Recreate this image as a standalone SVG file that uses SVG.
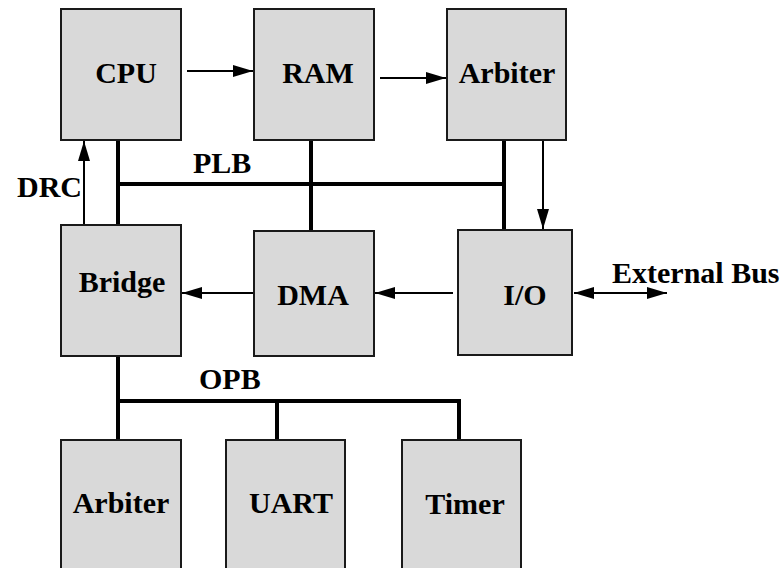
<svg xmlns="http://www.w3.org/2000/svg" width="781" height="568" viewBox="0 0 781 568">
<style>
.box{fill:#d9d9d9;stroke:#1a1a1a;stroke-width:2}
.lbl{font-family:'Liberation Serif','DejaVu Serif',serif;font-weight:bold;font-size:30px;fill:#000}
.mid{text-anchor:middle}
.bus{stroke:#000;stroke-width:4;fill:none}
.sig{stroke:#000;stroke-width:2;fill:none}
</style>
<defs>
<marker id="ah" markerUnits="userSpaceOnUse" markerWidth="20" markerHeight="12" refX="20" refY="6" orient="auto-start-reverse">
<path d="M0,0 L20,6 L0,12 z" fill="#000"/>
</marker>
</defs>
<rect width="781" height="568" fill="#fff"/>
<g id="connectors">
<line class="bus" x1="118" y1="140" x2="118" y2="225"/>
<line class="bus" x1="116" y1="184" x2="506" y2="184"/>
<line class="bus" x1="311" y1="140" x2="311" y2="231"/>
<line class="bus" x1="504" y1="140" x2="504" y2="230"/>
<line class="bus" x1="118" y1="356" x2="118" y2="440"/>
<line class="bus" x1="116" y1="401" x2="459" y2="401"/>
<line class="bus" x1="277" y1="401" x2="277" y2="440"/>
<line class="bus" x1="459" y1="399" x2="459" y2="440"/>
<line class="sig" x1="187" y1="71" x2="253" y2="71" marker-end="url(#ah)"/>
<line class="sig" x1="380" y1="78" x2="446" y2="78" marker-end="url(#ah)"/>
<line class="sig" x1="84" y1="224" x2="84" y2="141" marker-end="url(#ah)"/>
<line class="sig" x1="543" y1="140" x2="543" y2="229" marker-end="url(#ah)"/>
<line class="sig" x1="253" y1="293" x2="182" y2="293" marker-end="url(#ah)"/>
<line class="sig" x1="453" y1="293" x2="375" y2="293" marker-end="url(#ah)"/>
<line class="sig" x1="574" y1="293" x2="667" y2="293" marker-start="url(#ah)" marker-end="url(#ah)"/>
<text class="lbl" font-family="Liberation Serif, serif" x="193" y="173">PLB</text>
<text class="lbl" font-family="Liberation Serif, serif" x="17" y="197">DRC</text>
<text class="lbl" font-family="Liberation Serif, serif" x="612" y="283">External Bus</text>
<text class="lbl" font-family="Liberation Serif, serif" x="199" y="389">OPB</text>
</g>
<g id="cpu"><rect class="box" x="61" y="9" width="120" height="131"/><text class="lbl mid" x="126" y="83">CPU</text></g>
<g id="ram"><rect class="box" x="254" y="9" width="120" height="131"/><text class="lbl mid" x="318" y="83">RAM</text></g>
<g id="arbiter-plb"><rect class="box" x="447" y="9" width="119" height="131"/><text class="lbl mid" x="507" y="83">Arbiter</text></g>
<g id="bridge"><rect class="box" x="61" y="225" width="120" height="131"/><text class="lbl mid" x="122" y="292">Bridge</text></g>
<g id="dma"><rect class="box" x="254" y="231" width="120" height="125"/><text class="lbl mid" x="313" y="305">DMA</text></g>
<g id="io"><rect class="box" x="458" y="230" width="114" height="125"/><text class="lbl mid" x="525" y="305">I/O</text></g>
<g id="arbiter-opb"><rect class="box" x="61" y="440" width="120" height="140"/><text class="lbl mid" x="121" y="513">Arbiter</text></g>
<g id="uart"><rect class="box" x="226" y="440" width="119" height="140"/><text class="lbl mid" x="291" y="513">UART</text></g>
<g id="timer"><rect class="box" x="402" y="440" width="119" height="140"/><text class="lbl mid" x="465" y="514">Timer</text></g>
</svg>
